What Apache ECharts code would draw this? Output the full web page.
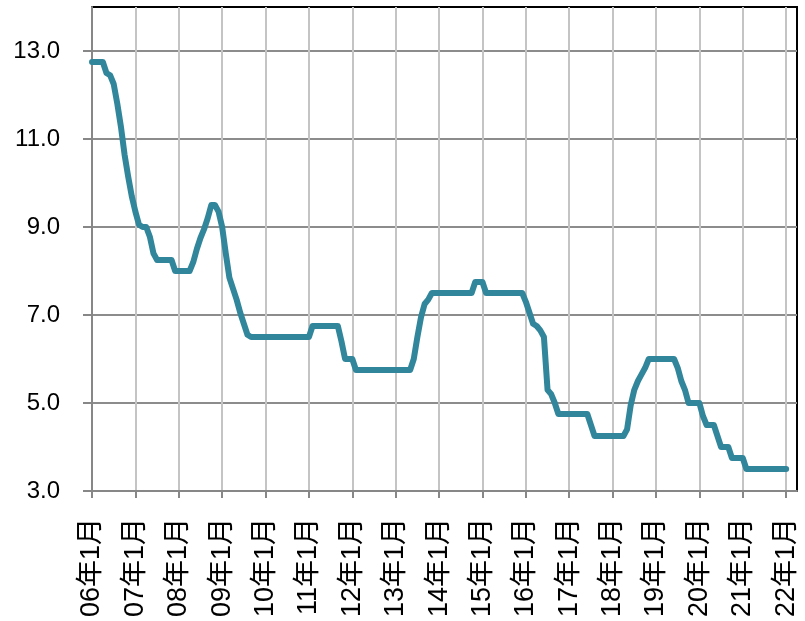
<!DOCTYPE html>
<html>
<head>
<meta charset="utf-8">
<script src="https://cdn.jsdelivr.net/npm/echarts@6/dist/echarts.min.js"></script>
<style>html,body{margin:0;padding:0;background:#fff}#c{width:805px;height:621px}</style>
</head>
<body>
<div id="c"></div>
<script>
// years shown on the axis (2006..2022), months Jan..Apr for the last year
const years = ['06','07','08','09','10','11','12','13','14','15','16','17','18','19','20','21','22'];
const lastYearMonths = 4;
const yTicks = [3, 5, 7, 9, 11, 13];

// monthly values from 06年1月 to 22年1月
const values2006 = [12.75,12.75,12.75,12.75,12.5,12.45,12.25,11.8,11.28,10.65,10.15,9.7];
const values2007 = [9.35,9.05,9.0,9.0,8.78,8.4,8.25,8.25,8.25,8.25,8.25,8.0];
const values2008 = [8.0,8.0,8.0,8.0,8.2,8.5,8.75,8.95,9.2,9.5,9.5,9.35];
const values2009 = [9.0,8.4,7.85,7.6,7.35,7.05,6.8,6.55,6.5,6.5,6.5,6.5];
const values2010 = [6.5,6.5,6.5,6.5,6.5,6.5,6.5,6.5,6.5,6.5,6.5,6.5];
const values2011 = [6.5,6.75,6.75,6.75,6.75,6.75,6.75,6.75,6.75,6.4,6.0,6.0];
const values2012 = [6.0,5.75,5.75,5.75,5.75,5.75,5.75,5.75,5.75,5.75,5.75,5.75];
const values2013 = [5.75,5.75,5.75,5.75,5.75,6.0,6.5,6.95,7.25,7.35,7.5,7.5];
const values2014 = [7.5,7.5,7.5,7.5,7.5,7.5,7.5,7.5,7.5,7.5,7.75,7.75];
const values2015 = [7.75,7.5,7.5,7.5,7.5,7.5,7.5,7.5,7.5,7.5,7.5,7.5];
const values2016 = [7.3,7.05,6.8,6.75,6.65,6.5,5.3,5.2,5.0,4.75,4.75,4.75];
const values2017 = [4.75,4.75,4.75,4.75,4.75,4.75,4.5,4.25,4.25,4.25,4.25,4.25];
const values2018 = [4.25,4.25,4.25,4.25,4.4,4.95,5.3,5.5,5.65,5.8,6.0,6.0];
const values2019 = [6.0,6.0,6.0,6.0,6.0,6.0,5.8,5.5,5.3,5.0,5.0,5.0];
const values2020 = [5.0,4.7,4.5,4.5,4.5,4.25,4.0,4.0,4.0,3.75,3.75,3.75];
const values2021 = [3.75,3.5,3.5,3.5,3.5,3.5,3.5,3.5,3.5,3.5,3.5,3.5];
const values2022 = [3.5];

const seriesValues = [].concat(values2006, values2007, values2008, values2009, values2010,
  values2011, values2012, values2013, values2014, values2015, values2016, values2017,
  values2018, values2019, values2020, values2021, values2022);

const categories = [];
years.forEach((y, i) => {
  const n = (i === years.length - 1) ? lastYearMonths : 12;
  for (let m = 1; m <= n; m++) categories.push(y + '年' + m + '月');
});

const FONT = '"Liberation Sans", "Noto Sans CJK SC", sans-serif';
const chart = echarts.init(document.getElementById('c'), null, {renderer: 'canvas'});
chart.setOption({
  animation: false,
  backgroundColor: '#fff',
  grid: {left: 92, top: 7, right: 8, bottom: 130, show: true, borderColor: '#000', borderWidth: 2, containLabel: false},
  xAxis: {
    type: 'category',
    data: categories,
    boundaryGap: false,
    axisLine: {lineStyle: {color: '#878787', width: 2}},
    axisTick: {show: true, interval: 11, length: 7, lineStyle: {color: '#878787', width: 2}},
    axisLabel: {interval: 11, rotate: 90, margin: 27, fontSize: 27, color: '#000', fontFamily: FONT},
    splitLine: {show: true, interval: 11, lineStyle: {color: '#c4c4c4', width: 2}}
  },
  yAxis: {
    type: 'value',
    min: 3, max: 14, interval: 2,
    axisLine: {show: true, lineStyle: {color: '#878787', width: 2}},
    axisTick: {show: true, length: 9, customValues: yTicks, lineStyle: {color: '#878787', width: 2}},
    axisLabel: {customValues: yTicks, margin: 32, fontSize: 24, color: '#000', fontFamily: FONT,
      formatter: v => v.toFixed(1)},
    splitLine: {show: true, lineStyle: {color: '#8c8c8c', width: 2}}
  },
  series: [{
    type: 'line',
    data: seriesValues,
    showSymbol: false,
    lineStyle: {color: '#31869b', width: 6, cap: 'round', join: 'round'},
    itemStyle: {color: '#31869b'}
  }]
});
</script>
</body>
</html>
